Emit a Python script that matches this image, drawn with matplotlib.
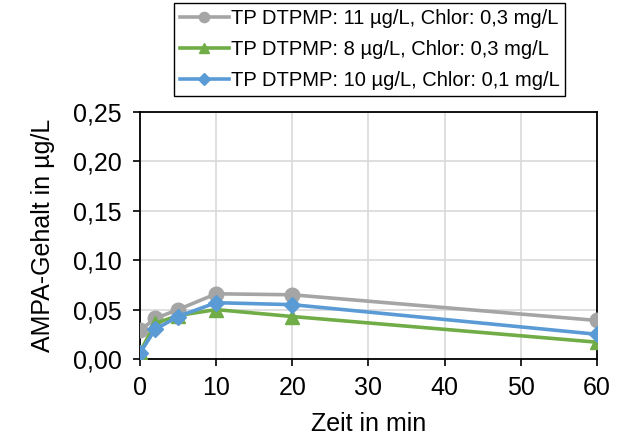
import matplotlib
matplotlib.use('Agg')
import matplotlib.pyplot as plt

plt.rcParams['font.family'] = ['Liberation Sans', 'DejaVu Sans']

# Zeit in min
zeit = [0, 2, 5, 10, 20, 60]

# AMPA-Gehalt in µg/L
grau = [0.029, 0.041, 0.050, 0.066, 0.065, 0.039]
gruen = [0.007, 0.036, 0.044, 0.050, 0.043, 0.017]
blau = [0.006, 0.030, 0.043, 0.057, 0.055, 0.025]

labels = ['TP DTPMP: 11 µg/L, Chlor: 0,3 mg/L',
          'TP DTPMP: 8 µg/L, Chlor: 0,3 mg/L',
          'TP DTPMP: 10 µg/L, Chlor: 0,1 mg/L']

yticks = [0.0, 0.05, 0.10, 0.15, 0.20, 0.25]
xticks = [0, 10, 20, 30, 40, 50, 60]

fig = plt.figure(figsize=(6.21, 4.37), dpi=100)
ax = fig.add_axes([0.2254, 0.1785, 0.7359, 0.5652])

ax.plot(zeit, grau, color='#A5A5A5', lw=2.6, marker='o', ms=10.5, label=labels[0], zorder=3)
ax.plot(zeit, gruen, color='#70AD47', lw=2.6, marker='^', ms=10, label=labels[1], zorder=3)
ax.plot(zeit, blau, color='#5B9BD5', lw=2.6, marker='D', ms=8.5, label=labels[2], zorder=3)

ax.set_xlim(0, 60)
ax.set_ylim(0, 0.25)
ax.set_xticks(xticks)
ax.set_yticks(yticks)
ax.set_yticklabels([f'{v:.2f}'.replace('.', ',') for v in yticks])
ax.tick_params(labelsize=18, direction='out', length=5, width=1.2)
ax.tick_params(axis='y', pad=8)
ax.tick_params(axis='x', pad=7)
ax.grid(True, color='#D9D9D9', lw=1.2)
ax.set_axisbelow(True)
for s in ax.spines.values():
    s.set_color('black')
    s.set_linewidth(1.3)

ax.set_xlabel('Zeit in min', fontsize=18, labelpad=9)
ax.set_ylabel('AMPA-Gehalt in µg/L', fontsize=18, labelpad=13)

leg = ax.legend(loc='lower center', bbox_to_anchor=(0.503, 1.065), fontsize=14.5,
                frameon=True, fancybox=False, edgecolor='black', framealpha=1,
                handlelength=2.4, handletextpad=0.1, borderpad=0.3,
                labelspacing=0.6, markerscale=0.7, borderaxespad=0)
leg.get_frame().set_linewidth(1.0)
for line in leg.get_lines():
    line.set_linewidth(2.6)

fig.savefig('out.png', dpi=100)
